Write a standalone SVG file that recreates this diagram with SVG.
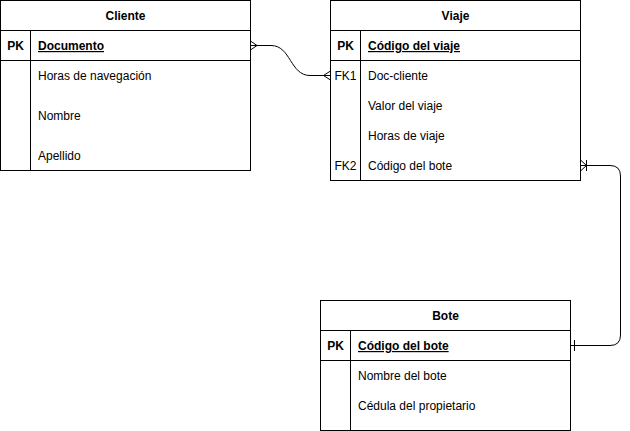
<svg xmlns="http://www.w3.org/2000/svg" width="630" height="431" viewBox="0 0 630 431">
<style>
.box{fill:#ffffff;stroke:#000000;stroke-width:1}
.ln{stroke:#000000;stroke-width:1;fill:none}
text{font-family:"Liberation Sans",Arial,sans-serif;font-size:12px;fill:#000000}
.b{font-weight:bold}
.c{text-anchor:middle}
.u{text-decoration:underline}
</style>
<rect width="630" height="431" fill="#ffffff"/>
<g id="cliente">
<rect class="box" x="0.5" y="0.5" width="250" height="170"/>
<line class="ln" x1="0.5" y1="30.5" x2="250.5" y2="30.5"/>
<line class="ln" x1="0.5" y1="60.5" x2="250.5" y2="60.5"/>
<line class="ln" x1="30.5" y1="30.5" x2="30.5" y2="170.5"/>
<text class="b c" x="125.5" y="20">Cliente</text>
<text class="b c" x="15.5" y="50">PK</text>
<text class="b u" x="38" y="50">Documento</text>
<text x="38" y="80">Horas de navegación</text>
<text x="38" y="120">Nombre</text>
<text x="38" y="160">Apellido</text>
</g>
<g id="viaje">
<rect class="box" x="330.5" y="0.5" width="250" height="180"/>
<line class="ln" x1="330.5" y1="30.5" x2="580.5" y2="30.5"/>
<line class="ln" x1="330.5" y1="60.5" x2="580.5" y2="60.5"/>
<line class="ln" x1="360.5" y1="30.5" x2="360.5" y2="180.5"/>
<text class="b c" x="455.5" y="20">Viaje</text>
<text class="b c" x="345.5" y="50">PK</text>
<text class="b u" x="368" y="50">Código del viaje</text>
<text class="c" x="345.5" y="80">FK1</text>
<text x="368" y="80">Doc-cliente</text>
<text x="368" y="110">Valor del viaje</text>
<text x="368" y="140">Horas de viaje</text>
<text class="c" x="345.5" y="170">FK2</text>
<text x="368" y="170">Código del bote</text>
</g>
<g id="bote">
<rect class="box" x="320.5" y="300.5" width="250" height="130"/>
<line class="ln" x1="320.5" y1="330.5" x2="570.5" y2="330.5"/>
<line class="ln" x1="320.5" y1="360.5" x2="570.5" y2="360.5"/>
<line class="ln" x1="350.5" y1="330.5" x2="350.5" y2="430.5"/>
<text class="b c" x="445.5" y="320">Bote</text>
<text class="b c" x="335.5" y="350">PK</text>
<text class="b u" x="358" y="350">Código del bote</text>
<text x="358" y="380">Nombre del bote</text>
<text x="358" y="410">Cédula del propietario</text>
</g>
<g id="connectors">
<path class="ln" d="M250.5,45.5 L271,45.5 C291,45.5 290,75.5 310,75.5 L330.5,75.5"/>
<path class="ln" d="M250.5,41 L257,45.5 L250.5,50"/>
<path class="ln" d="M330.5,71 L323.5,75.5 L330.5,80"/>
<path class="ln" d="M580.5,165.5 L610,165.5 Q620.5,165.5 620.5,176 L620.5,335 Q620.5,345.5 610,345.5 L570.5,345.5"/>
<path class="ln" d="M580.5,160 L586.5,165.5 L580.5,171"/>
<line class="ln" x1="586.5" y1="160" x2="586.5" y2="171"/>
<line class="ln" x1="574.5" y1="340" x2="574.5" y2="351"/>
</g>
</svg>
